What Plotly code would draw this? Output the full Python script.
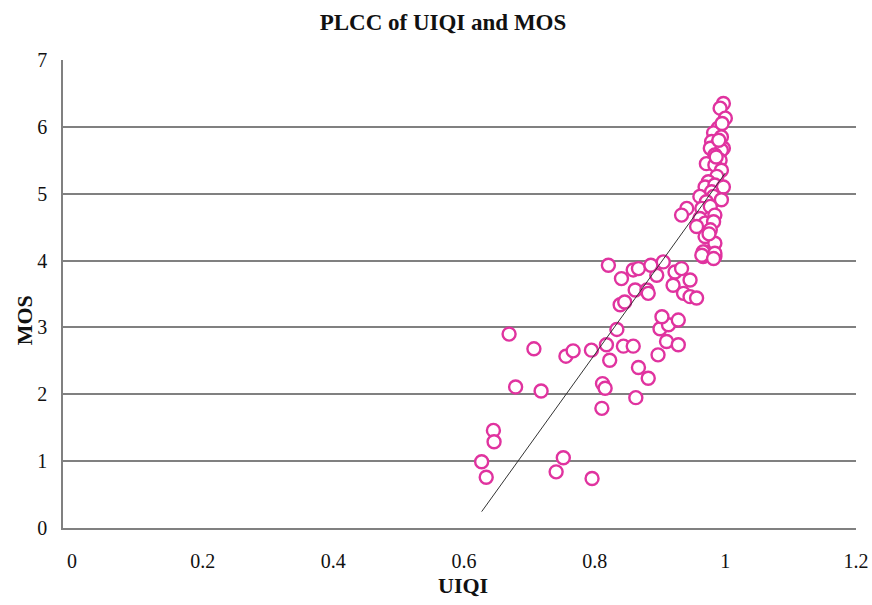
import plotly.graph_objects as go

# UIQI (x) and MOS (y) values
uiqi = [
    0.645, 0.646, 0.627, 0.634, 0.741, 0.752, 0.796,
    0.669, 0.707, 0.756, 0.767, 0.679, 0.718,
    0.812, 0.816, 0.811, 0.863, 0.882, 0.867, 0.823, 0.795,
    0.818, 0.844, 0.859, 0.834, 0.897, 0.910, 0.928, 0.900, 0.913, 0.928, 0.903,
    0.839, 0.846, 0.862, 0.880, 0.882, 0.920, 0.946, 0.936, 0.946, 0.956,
    0.923, 0.933, 0.895, 0.821, 0.841, 0.859, 0.867, 0.886, 0.905,
    0.966, 0.984, 0.969,
    0.997, 0.992, 1.000, 0.989, 0.982, 0.994, 0.979, 0.987, 0.997, 0.977,
    0.994, 0.984, 0.992, 0.971, 0.984, 0.994, 0.987, 0.974, 0.969, 0.984,
    0.997, 0.979, 0.961, 0.982, 0.994, 0.971, 0.964, 0.977, 0.941, 0.933,
    0.984, 0.961, 0.969, 0.982, 0.956, 0.977, 0.969, 0.984, 0.966, 0.984,
    0.964, 0.982, 0.975, 0.990, 0.995, 0.986,
]
mos = [
    1.46, 1.29, 0.99, 0.76, 0.84, 1.05, 0.74,
    2.90, 2.68, 2.57, 2.65, 2.11, 2.05,
    2.16, 2.09, 1.79, 1.95, 2.24, 2.40, 2.51, 2.66,
    2.74, 2.72, 2.72, 2.97, 2.59, 2.79, 2.74, 2.98, 3.04, 3.11, 3.16,
    3.34, 3.38, 3.56, 3.56, 3.51, 3.63, 3.71, 3.51, 3.46, 3.44,
    3.83, 3.88, 3.78, 3.93, 3.73, 3.86, 3.88, 3.93, 3.98,
    4.06, 4.06, 4.13,
    6.35, 6.28, 6.13, 5.98, 5.91, 5.85, 5.78, 5.73, 5.68, 5.68,
    5.65, 5.58, 5.50, 5.45, 5.43, 5.35, 5.26, 5.18, 5.10, 5.13,
    5.10, 5.03, 4.96, 4.96, 4.91, 4.88, 4.78, 4.81, 4.78, 4.68,
    4.68, 4.63, 4.56, 4.58, 4.51, 4.46, 4.36, 4.26, 4.13, 4.11,
    4.08, 4.03, 4.40, 5.80, 6.05, 5.55,
]

# Linear trendline coefficients
trend_slope = 13.58
trend_intercept = -8.27

x_ticks = [0, 0.2, 0.4, 0.6, 0.8, 1, 1.2]
x_tick_text = ["0", "0.2", "0.4", "0.6", "0.8", "1", "1.2"]
y_ticks = [0, 1, 2, 3, 4, 5, 6, 7]

tx = [min(uiqi), max(uiqi)]
ty = [trend_intercept + trend_slope * v for v in tx]

fig = go.Figure()
fig.add_trace(go.Scatter(
    x=uiqi, y=mos, mode="markers",
    marker=dict(size=13, color="white", line=dict(color="#e0339f", width=2.4)),
    showlegend=False,
))
fig.add_trace(go.Scatter(
    x=tx, y=ty, mode="lines",
    line=dict(color="#333333", width=1),
    hoverinfo="skip", showlegend=False,
))

font_family = "Liberation Serif"
fig.update_layout(
    width=872, height=605,
    margin=dict(l=63, r=16, t=60, b=77, autoexpand=False),
    paper_bgcolor="white", plot_bgcolor="white",
    font=dict(family=font_family, size=20, color="#111111"),
    title=dict(text="<b>PLCC of UIQI and MOS</b>", x=0.508, xanchor="center",
               y=0.963, yanchor="middle", font=dict(size=23, family=font_family, color="#111111")),
    showlegend=False,
    annotations=[
        dict(text="<b>UIQI</b>", xref="paper", yref="paper", x=0.504, y=-0.1218,
             xanchor="center", yanchor="middle", showarrow=False,
             font=dict(size=22, family=font_family, color="#111111")),
        dict(text="<b>MOS</b>", xref="paper", yref="paper", x=-0.049, y=0.444,
             xanchor="center", yanchor="middle", showarrow=False, textangle=-90,
             font=dict(size=22, family=font_family, color="#111111")),
    ],
)
fig.update_xaxes(
    range=[-0.0138, 1.2], tickvals=x_ticks, ticktext=x_tick_text,
    tickfont=dict(size=20, family=font_family, color="#111111"),
    showgrid=False, zeroline=False, automargin=False,
    showline=True, linecolor="#808080", linewidth=2,
    ticks="", ticklabelstandoff=14,
)
fig.update_yaxes(
    range=[0, 7], tickvals=y_ticks,
    tickfont=dict(size=20, family=font_family, color="#111111"),
    showgrid=True, gridcolor="#808080", gridwidth=1.5, zeroline=False, automargin=False,
    showline=True, linecolor="#808080", linewidth=1.5,
    ticks="", ticklabelstandoff=10,
)

fig.write_html("out.html")
